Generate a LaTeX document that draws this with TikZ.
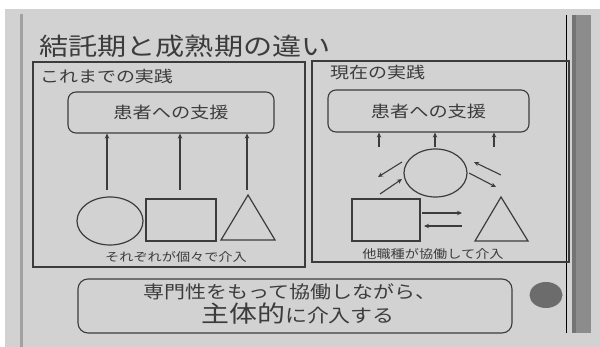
\documentclass[tikz,border=0pt]{standalone}
\usepackage{fontspec}
\newfontfamily\jp[FakeStretch=1.2]{Noto Sans CJK JP}
\usetikzlibrary{arrows.meta,shapes.geometric}
\definecolor{bg}{HTML}{D2D2D2}
\definecolor{ink}{HTML}{3C3C3C}
\definecolor{bar}{HTML}{8C8C8C}
\definecolor{bardark}{HTML}{747474}
\definecolor{edge}{HTML}{A2A2A2}
\definecolor{thin}{HTML}{9E9E9E}
\definecolor{dotc}{HTML}{6C6C6C}
\begin{document}
\begin{tikzpicture}[x=1pt,y=-1pt,
  panel/.style={draw=ink,line width=1.1pt,inner sep=0pt,outer sep=0pt},
  rbox/.style={draw=ink,line width=1.1pt,rounded corners=8pt,inner sep=0pt,text=ink},
  shp/.style={draw=ink,line width=1.2pt,inner sep=0pt},
  arr/.style={draw=ink,line width=1.1pt,-{Stealth[length=5pt,width=4.5pt]}},
  txt/.style={text=ink,inner sep=0pt}
]
\useasboundingbox (0,0) rectangle (600,347);
\fill[white] (0,0) rectangle (600,347);
\fill[bg] (5,9) rectangle (600,347);
% slide edges
\draw[edge,line width=3pt] (21,14) -- (21,347);
\draw[thin,line width=1pt] (566,15) -- (566,333);
\fill[bar] (572,15) rectangle (591,333);
\fill[bardark] (572,15) rectangle (576,333);

% title
\node[txt,anchor=west,font=\jp\fontsize{24.3}{27}\selectfont] (title) at (39,46) {結託期と成熟期の違い};

% panels
\node[panel,anchor=north west,minimum width=272pt,minimum height=205pt] (lp) at (33,62) {};
\node[panel,anchor=north west,minimum width=257pt,minimum height=201pt] (rp) at (312,61) {};
\node[txt,anchor=west,font=\jp\fontsize{15.8}{18}\selectfont] (llab) at (40,76) {これまでの実践};
\node[txt,anchor=west,font=\jp\fontsize{15.8}{18}\selectfont] (rlab) at (330,73) {現在の実践};

% left panel
\node[rbox,minimum width=206pt,minimum height=41pt,font=\jp\fontsize{16}{18}\selectfont] (lbox) at (171,112.5) {患者への支援};
\node[shp,ellipse,minimum width=66pt,minimum height=48pt] (lc) at (110,221) {};
\node[shp,rectangle,minimum width=70pt,minimum height=42pt] (lr) at (181,220) {};
\coordinate (lt) at (248,195);
\draw[shp,line join=miter] (lt) -- (275,240) -- (221,240) -- cycle;
\coordinate (la1) at (107,190);
\coordinate (la2) at (180,190);
\coordinate (la3) at (247,190);
\draw[arr] (la1) -- (la1 |- lbox.south);
\draw[arr] (la2) -- (la2 |- lbox.south);
\draw[arr] (la3) -- (la3 |- lbox.south);
\node[txt,font=\jp\fontsize{11.8}{14}\selectfont] (lcap) at (176,257) {それぞれが個々で介入};

% right panel
\node[rbox,minimum width=201pt,minimum height=42pt,font=\jp\fontsize{16}{18}\selectfont] (rbx) at (428.5,111) {患者への支援};
\node[shp,ellipse,minimum width=63pt,minimum height=48pt] (rc) at (435.5,173) {};
\node[shp,rectangle,minimum width=68pt,minimum height=42pt] (rr) at (386,220) {};
\coordinate (rt) at (501,197);
\draw[shp,line join=miter] (rt) -- (528,241) -- (475,241) -- cycle;
\coordinate (ra1) at (379,147);
\coordinate (ra2) at (435,147);
\coordinate (ra3) at (494,147);
\draw[arr] (ra1) -- (ra1 |- rbx.south);
\draw[arr] (ra2) -- (ra2 |- rbx.south);
\draw[arr] (ra3) -- (ra3 |- rbx.south);
\coordinate (d1s) at (402,162); \coordinate (d1e) at (378,177);
\coordinate (d2s) at (380,194); \coordinate (d2e) at (402,179);
\coordinate (d3s) at (501,175); \coordinate (d3e) at (474,162);
\coordinate (d4s) at (469,173); \coordinate (d4e) at (496,187);
\draw[arr] (d1s) -- (d1e);
\draw[arr] (d2s) -- (d2e);
\draw[arr] (d3s) -- (d3e);
\draw[arr] (d4s) -- (d4e);
\coordinate (h1s) at (422,213); \coordinate (h1e) at (462,213);
\coordinate (h2s) at (462,226); \coordinate (h2e) at (424,226);
\draw[arr] (h1s) -- (h1e);
\draw[arr] (h2s) -- (h2e);
\node[txt,font=\jp\fontsize{11.8}{14}\selectfont] (rcap) at (433,254) {他職種が協働して介入};

% bottom message
\node[rbox,rounded corners=10pt,minimum width=434pt,minimum height=54pt] (msg) at (295,306) {};
\node[txt,font=\jp\fontsize{17.5}{20}\selectfont] (m1) at (290,292) {専門性をもって協働しながら、};
\node[txt,font=\jp] (m2) at (298,314) {{\fontsize{23.3}{26}\selectfont 主体的}{\fontsize{18.3}{20}\selectfont に介入する}};
\node[ellipse,fill=dotc,minimum width=33pt,minimum height=26pt,inner sep=0pt] (dot) at (546,295) {};
\end{tikzpicture}
\end{document}
